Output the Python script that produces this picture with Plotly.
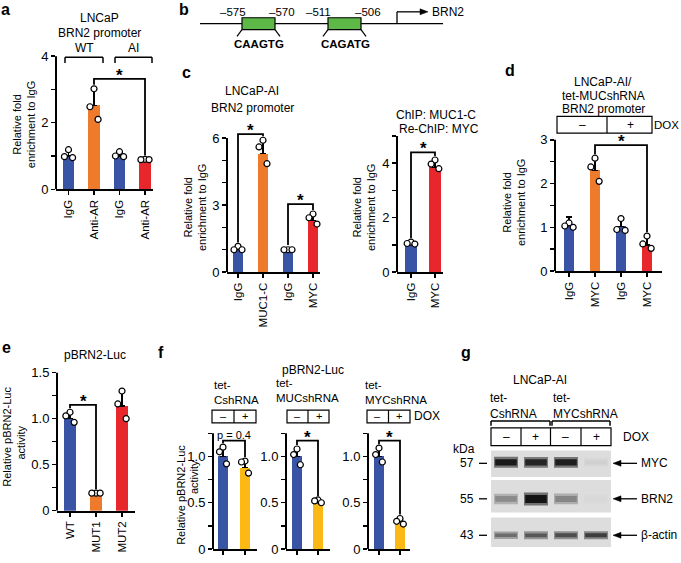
import plotly.graph_objects as go

W, H = 681, 563
FONT = "Liberation Sans, Arial, Helvetica, sans-serif"
BLUE, ORANGE, RED, GOLD, GREEN = "#3A54A5", "#EE7A2C", "#E8272C", "#FDB913", "#5DB847"
TS = 12      # title text size
AT = 11      # axis title size
XT = 11.5    # category tick size
YN = 13      # numeric tick size

# ---------------- data ----------------
a_cats = ["IgG", "Anti-AR", "IgG", "Anti-AR"]
a_mean = [1.0, 2.52, 1.0, 0.88]
a_err = [0.2, 0.5, 0.14, 0.02]
a_pts = [[1.19, 0.98, 0.95], [3.02, 2.48, 2.1], [1.13, 1.0, 0.98], [0.9, 0.89, 0.89]]

c1_cats = ["IgG", "MUC1-C", "IgG", "MYC"]
c1_mean = [1.0, 5.3, 1.0, 2.3]
c1_err = [0.12, 0.6, 0.03, 0.3]
c1_pts = [[1.15, 1.0, 1.0], [5.9, 5.6, 4.85], [1.0, 1.0, 1.0], [2.6, 2.43, 2.15]]

c2_cats = ["IgG", "MYC"]
c2_mean = [1.03, 3.85]
c2_err = [0.07, 0.25]
c2_pts = [[1.1, 1.05, 1.03], [4.12, 3.97, 3.8]]

d_cats = ["IgG", "MYC", "IgG", "MYC"]
d_mean = [1.06, 2.3, 1.02, 0.6]
d_err = [0.18, 0.28, 0.2, 0.2]
d_pts = [[1.1, 1.03, 1.0], [2.58, 2.38, 2.05], [1.2, 0.95, 0.93], [0.8, 0.62, 0.52]]

e_cats = ["WT", "MUT1", "MUT2"]
e_mean = [1.0, 0.17, 1.14]
e_err = [0.06, 0.02, 0.16]
e_pts = [[1.07, 1.03, 0.96], [0.19, 0.19, 0.19], [1.3, 1.16, 1.0]]

f_groups = ["tet-<br>CshRNA", "tet-<br>MUCshRNA", "tet-<br>MYCshRNA"]
f_cats = ["–", "+"]
f_mean = [[1.0, 0.88], [1.0, 0.5], [1.0, 0.3]]
f_err = [[0.09, 0.07], [0.08, 0.03], [0.08, 0.03]]
f_pts = [[[1.1, 1.05, 0.92], [0.95, 0.94, 0.82]],
         [[1.08, 1.02, 0.91], [0.53, 0.52, 0.5]],
         [[1.09, 1.02, 0.94], [0.33, 0.3, 0.27]]]
f_sig = ["p = 0.4", "*", "*"]

g_lanes = ["–", "+", "–", "+"]
g_groups = ["tet-<br>CshRNA", "tet-<br>MYCshRNA"]
g_proteins = ["MYC", "BRN2", "β-actin"]
g_kda = ["57", "55", "43"]
g_myc = [0.95, 0.9, 0.93, 0.06]
g_brn2 = [0.4, 0.98, 0.42, 0.02]
g_actin = [0.55, 0.65, 0.7, 0.78]

# ---------------- helpers ----------------
fig = go.Figure()
layout = {}
shapes = []
annots = []
JIT = [0.0, -0.16, 0.16]


def PX(x):
    return x / W


def PY(y):
    return 1 - y / H


def ptext(x, y, s, size=TS, xa="center", ya="middle", bold=False, angle=0, align="center"):
    annots.append(dict(xref="paper", yref="paper", x=PX(x), y=PY(y),
                       text=(f"<b>{s}</b>" if bold else s), showarrow=False,
                       xanchor=xa, yanchor=ya, textangle=angle, borderpad=0, align=align,
                       font=dict(size=size, family=FONT, color="black")))


def pline(x0, y0, x1, y1, w=1.3, color="black"):
    shapes.append(dict(type="line", xref="paper", yref="paper", x0=PX(x0), y0=PY(y0),
                       x1=PX(x1), y1=PY(y1), line=dict(color=color, width=w)))


def prect(x0, y0, x1, y1, fill="rgba(0,0,0,0)", w=1.2, lc="black"):
    shapes.append(dict(type="rect", xref="paper", yref="paper", x0=PX(x0), y0=PY(y1),
                       x1=PX(x1), y1=PY(y0), fillcolor=fill, line=dict(color=lc, width=w)))


def ptri(pts, fill="black"):
    path = "M " + " L ".join(f"{PX(x)},{PY(y)}" for x, y in pts) + " Z"
    shapes.append(dict(type="path", xref="paper", yref="paper", path=path,
                       fillcolor=fill, line=dict(color=fill, width=0.5)))


def ids(n):
    xid = "x" if n == 1 else f"x{n}"
    yid = "y" if n == 1 else f"y{n}"
    xk = "xaxis" if n == 1 else f"xaxis{n}"
    yk = "yaxis" if n == 1 else f"yaxis{n}"
    return xid, yid, xk, yk


def bar_panel(n, cats, mean, err, pts, colors, xpx, c0, sp, y0, ppu, ytop, ymax,
              yt, ytl, bw, show_xl=True):
    xid, yid, xk, yk = ids(n)
    layout[xk] = dict(domain=[PX(xpx[0]), PX(xpx[1])],
                      range=[(xpx[0] - c0) / sp, (xpx[1] - c0) / sp], anchor=yid,
                      tickvals=list(range(len(cats))), ticktext=cats, tickangle=-90,
                      ticks="outside", ticklen=4, tickwidth=1.5, tickcolor="black",
                      showline=True, linewidth=2, linecolor="black", showgrid=False,
                      zeroline=False, showticklabels=show_xl, fixedrange=True,
                      tickfont=dict(size=XT, family=FONT, color="black"))
    layout[yk] = dict(domain=[PY(y0), PY(y0 - ymax * ppu)], range=[0, ymax], anchor=xid,
                      tickvals=yt, ticktext=ytl, ticks="outside", ticklen=4, tickwidth=1.5,
                      tickcolor="black", showline=False, showgrid=False, zeroline=False,
                      fixedrange=True, tickfont=dict(size=YN, family=FONT, color="black"))
    shapes.append(dict(type="line", xref=f"{xid} domain", yref=yid, x0=0, x1=0, y0=0,
                       y1=ytop, line=dict(color="black", width=2)))
    fig.add_trace(go.Bar(x=list(range(len(cats))), y=mean, width=bw,
                         marker=dict(color=colors, line=dict(width=0)),
                         error_y=dict(type="data", symmetric=False, array=err,
                                      arrayminus=[0] * len(err), color="black",
                                      thickness=1.5, width=3),
                         xaxis=xid, yaxis=yid, hoverinfo="skip"))
    xs, ys = [], []
    for i, p in enumerate(pts):
        for k, v in enumerate(p):
            xs.append(i + JIT[k])
            ys.append(v)
    fig.add_trace(go.Scatter(x=xs, y=ys, mode="markers", cliponaxis=False,
                             marker=dict(size=6, color="white",
                                         line=dict(color="black", width=1.2)),
                             xaxis=xid, yaxis=yid, hoverinfo="skip"))
    return dict(xid=xid, yid=yid, ppu=ppu, mean=mean, err=err, pts=pts)


def sig(pn, i, j, ybr, label="*", gap_px=4):
    def top(k):
        return max(max(pn["pts"][k]), pn["mean"][k] + pn["err"][k]) + gap_px / pn["ppu"]
    fig.add_trace(go.Scatter(x=[i, i, j, j], y=[top(i), ybr, ybr, top(j)], mode="lines",
                             line=dict(color="black", width=1.8),
                             xaxis=pn["xid"], yaxis=pn["yid"], hoverinfo="skip"))
    if label == "*":
        annots.append(dict(xref=pn["xid"], yref=pn["yid"], x=(i + j) / 2, y=ybr,
                           text="<b>*</b>", showarrow=False, yanchor="bottom", yshift=-7,
                           borderpad=0, font=dict(size=17, family=FONT, color="black")))
    else:
        annots.append(dict(xref=pn["xid"], yref=pn["yid"], x=(i + j) / 2, y=ybr,
                           text=label, showarrow=False, yanchor="bottom", yshift=-1,
                           borderpad=0, font=dict(size=11, family=FONT, color="black")))


YT = "Relative fold<br>enrichment to IgG"

# ---------------- panel a ----------------
pa = bar_panel(1, a_cats, a_mean, a_err, a_pts, [BLUE, ORANGE, BLUE, RED], (56, 153), 68.5,
               25.5, 192, 33.75, 4, 4.6, [0, 1, 2, 3, 4], ["0", "", "2", "", "4"], 0.45)
sig(pa, 1, 3, 3.32)
ptext(5, 0, "a", 16, ya="top", bold=True)
ptext(99, 18, "LNCaP")
ptext(99, 33, "BRN2 promoter")
ptext(84, 49, "WT")
ptext(133, 49, "AI")
for x0, x1 in [(65, 103), (115, 152)]:
    pline(x0, 58, x1, 58, 1.5)
    pline(x0, 58, x0, 64, 1.5)
    pline(x1, 58, x1, 64, 1.5)
ptext(24, 127, YT, AT, angle=-90)

# ---------------- panel b ----------------
ptext(184, 0, "b", 16, ya="top", bold=True)
pline(200, 24, 443, 24, 1.3)
prect(242, 18, 275, 30, fill=GREEN, w=1.2)
prect(328, 18, 361, 30, fill=GREEN, w=1.2)
for s, x in [("–575", 233), ("–570", 282), ("–511", 318), ("–506", 368)]:
    ptext(x, 12, s, 11.5)
for (x0, x1) in [(242, 237), (275, 280), (328, 323), (361, 366)]:
    pline(x0, 30, x1, 37, 1.2)
ptext(259, 45, "CAAGTG", 11.5, bold=True)
ptext(345, 45, "CAGATG", 11.5, bold=True)
pline(397, 24, 397, 12, 1.3)
pline(397, 12, 421, 12, 1.3)
ptri([(420, 9), (428, 12), (420, 15)])
ptext(431, 12, "BRN2", 12, xa="left")

# ---------------- panel c ----------------
ptext(186, 74, "c", 16, bold=True)
pc1 = bar_panel(2, c1_cats, c1_mean, c1_err, c1_pts, [BLUE, ORANGE, BLUE, RED], (227, 320),
                238, 25, 276, 22.67, 6, 6.9, list(range(7)),
                ["0", "", "", "3", "", "", "6"], 0.43)
sig(pc1, 0, 1, 6.17)
sig(pc1, 2, 3, 3.04)
ptext(252, 92, "LNCaP-AI")
ptext(252, 110, "BRN2 promoter")
ptext(195, 211, YT, AT, angle=-90)

pc2 = bar_panel(3, c2_cats, c2_mean, c2_err, c2_pts, [BLUE, RED], (397, 443), 411, 24, 276,
                27.6, 5, 5.2, list(range(6)), ["0", "", "2", "", "4", ""], 0.5)
sig(pc2, 0, 1, 4.4)
ptext(436, 117, "ChIP: MUC1-C")
ptext(439, 131, "Re-ChIP: MYC")
ptext(364, 211, YT, AT, angle=-90)

# ---------------- panel d ----------------
ptext(510, 72, "d", 16, bold=True)
pd_ = bar_panel(4, d_cats, d_mean, d_err, d_pts, [BLUE, ORANGE, BLUE, RED], (555, 662), 569,
                26, 275, 44.4, 3, 3.25, [0, 0.5, 1, 1.5, 2, 2.5, 3],
                ["0", "", "1", "", "2", "", "3"], 0.42)
sig(pd_, 1, 3, 2.88)
ptext(603, 83, "LNCaP-AI/")
ptext(603, 97, "tet-MUCshRNA")
ptext(603, 111, "BRN2 promoter")
prect(557, 118, 652, 135)
pline(607, 118, 607, 135, 1.2)
ptext(582, 126.5, "–", TS)
ptext(630, 126.5, "+", TS)
ptext(680, 127, "DOX", 11.5, xa="right")
ptext(514, 206, YT, AT, angle=-90)

# ---------------- panel e ----------------
ptext(6, 353, "e", 16, bold=True)
pe = bar_panel(5, e_cats, e_mean, e_err, e_pts, [BLUE, ORANGE, RED], (57, 135), 70, 26, 518,
               93.3, 1.5, 1.62, [0, 0.25, 0.5, 0.75, 1.0, 1.25, 1.5],
               ["0", "", "0.5", "", "1.0", "", "1.5"], 0.46)
sig(pe, 0, 1, 1.15)
ptext(95, 360, "pBRN2-Luc")
ptext(7, 443, "Relative pBRN2-Luc", AT, angle=-90)
ptext(21, 449, "activity", AT, angle=-90)

# ---------------- panel f ----------------
ptext(161, 358, "f", 16, bold=True)
ptext(313, 375, "pBRN2-Luc")
f_x = [(213, 257, 223, 22), (286, 330, 297, 21), (368, 410, 379, 21)]
f_box = [(212, 256), (287, 329), (367, 410)]
f_lab = [(213, 398), (275, 396), (364, 398)]
for g in range(3):
    x0, x1, c0, sp = f_x[g]
    pf = bar_panel(6 + g, f_cats, f_mean[g], f_err[g], f_pts[g], [BLUE, GOLD], (x0, x1), c0,
                   sp, 557, 94, 1.25, 1.32, [0, 0.25, 0.5, 0.75, 1.0, 1.25],
                   ["0", "", "0.5", "", "1.0", ""], 0.47, show_xl=False)
    sig(pf, 0, 1, 1.17, label=f_sig[g])
    lx, ly = f_lab[g]
    ptext(lx, ly, f_groups[g], 11.5, xa="left", align="left")
    bx0, bx1 = f_box[g]
    prect(bx0, 416, bx1, 429)
    mid = (bx0 + bx1) / 2
    pline(mid, 416, mid, 429, 1.2)
    ptext((bx0 + mid) / 2, 422.5, f_cats[0], 11)
    ptext((mid + bx1) / 2, 422.5, f_cats[1], 11)
ptext(427, 422, "DOX", TS)
ptext(181, 502, "Relative pBRN2-Luc", AT, angle=-90)
ptext(194, 484, "activity", AT, angle=-90)

# ---------------- panel g ----------------
ptext(466, 358, "g", 16, bold=True)
ptext(540, 385, "LNCaP-AI")
for gi, lx in enumerate([489, 552]):
    ptext(lx, 412, g_groups[gi], TS, xa="left", align="left")
for x0, x1 in [(491, 550), (552, 610)]:
    pline(x0, 427, x1, 427, 1.5)
    pline(x0, 427, x0, 432, 1.5)
    pline(x1, 427, x1, 432, 1.5)
prect(491, 434, 611, 452)
for xd in [521, 550.5, 581]:
    pline(xd, 434, xd, 452, 1.2)
for k, xc in enumerate([506, 535.5, 565.5, 596]):
    ptext(xc, 443, g_lanes[k], TS)
ptext(622, 443, "DOX", TS, xa="left")
ptext(464, 455, "kDa", TS)

blots = [(484, 457, 0.556, g_myc, 6.5, 470), (520, 487, 0.42, g_brn2, 8.0, 506),
         (555, 525, 0.40, g_actin, 4.5, 543)]
for r, (yb, yt_, yc, vals, th, ylab) in enumerate(blots):
    n = 9 + r
    xid, yid, xk, yk = ids(n)
    layout[xk] = dict(domain=[PX(491), PX(611)], range=[0.5, 4.5], anchor=yid, visible=False,
                      fixedrange=True)
    layout[yk] = dict(domain=[PY(yb), PY(yt_)], range=[0, 1], anchor=xid, visible=False,
                      fixedrange=True)
    shapes.append(dict(type="rect", xref=f"{xid} domain", yref=f"{yid} domain", x0=0, x1=1,
                       y0=0, y1=1, fillcolor="#DDDDDD", line=dict(width=0), layer="below"))
    for i, v in enumerate(vals):
        gv = int(221 - 205 * v)
        halo = int(221 - 110 * v)
        fig.add_trace(go.Scatter(x=[i + 0.6, i + 1.4], y=[yc, yc], mode="lines",
                                 line=dict(color=f"rgb({halo},{halo},{halo})",
                                           width=th * (0.75 + 0.5 * v) + 3),
                                 xaxis=xid, yaxis=yid, hoverinfo="skip"))
        fig.add_trace(go.Scatter(x=[i + 0.64, i + 1.36], y=[yc, yc], mode="lines",
                                 line=dict(color=f"rgb({gv},{gv},{gv})",
                                           width=th * (0.55 + 0.45 * v)),
                                 xaxis=xid, yaxis=yid, hoverinfo="skip"))
    ptext(475, ylab, g_kda[r], TS, xa="right")
    pline(479, ylab, 487, ylab, 1.3)
    pline(621, ylab, 637, ylab, 1.3)
    ptri([(613, ylab), (621, ylab - 3), (621, ylab + 3)])
    ptext(640, ylab, g_proteins[r], TS, xa="left")

fig.update_layout(width=W, height=H, margin=dict(l=0, r=0, t=0, b=0),
                  plot_bgcolor="white", paper_bgcolor="white", showlegend=False,
                  font=dict(family=FONT, color="black", size=11), bargap=0,
                  shapes=shapes, annotations=annots, **layout)
fig.write_html("out.html", config={"displayModeBar": False, "staticPlot": True},
               post_script="document.body.style.margin='0';document.body.style.overflow='hidden';")
